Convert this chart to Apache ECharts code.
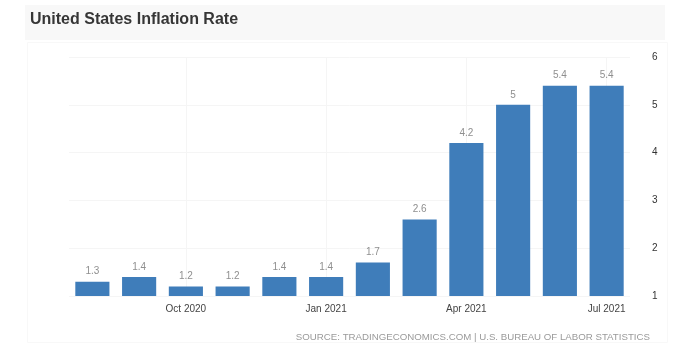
<!DOCTYPE html>
<html>
<head>
<meta charset="utf-8">
<script src="https://cdn.jsdelivr.net/npm/echarts@6/dist/echarts.min.js"></script>
<style>html,body{margin:0;padding:0;background:#fff;}#c{width:684px;height:344px;}</style>
</head>
<body>
<div id="c"></div>
<script>
const categories = ['Aug 2020','Sep 2020','Oct 2020','Nov 2020','Dec 2020','Jan 2021','Feb 2021','Mar 2021','Apr 2021','May 2021','Jun 2021','Jul 2021'];
const inflation = [1.3, 1.4, 1.2, 1.2, 1.4, 1.4, 1.7, 2.6, 4.2, 5.0, 5.4, 5.4];
const yTicks = [1, 2, 3, 4, 5, 6];
const labelEvery = (i) => (i - 2) % 3 === 0;

const chart = echarts.init(document.getElementById('c'));
chart.setOption({
  backgroundColor: '#ffffff',
  animation: false,
  graphic: [
    { type: 'rect', left: 25, top: 5, shape: { width: 640, height: 35 }, style: { fill: '#f8f8f8' }, z: -10 },
    { type: 'rect', left: 25, top: 40, shape: { width: 640, height: 300 }, style: { fill: 'none', stroke: '#f8f8f8', lineWidth: 1 }, z: -10 },
    { type: 'text', left: 30, top: 12, style: { text: 'United States Inflation Rate', font: 'bold 16px "Liberation Sans", Arial, sans-serif', fill: '#363636' } },
    { type: 'text', right: 34, top: 332, style: { text: 'SOURCE: TRADINGECONOMICS.COM | U.S. BUREAU OF LABOR STATISTICS', font: '9.7px "Liberation Sans", Arial, sans-serif', fill: '#9a9a9a' } }
  ],
  grid: { left: 69, right: 54, top: 57, bottom: 48 },
  xAxis: {
    type: 'category',
    data: categories,
    axisLine: { show: false },
    axisTick: { show: false, alignWithLabel: true },
    axisLabel: {
      interval: (i) => labelEvery(i),
      color: '#444444',
      fontSize: 10,
      fontFamily: '"Liberation Sans", Arial, sans-serif',
      margin: 8
    },
    splitLine: { show: true, interval: (i) => labelEvery(i), alignWithLabel: true, lineStyle: { color: '#f5f5f5' } }
  },
  yAxis: {
    type: 'value',
    position: 'right',
    min: 1,
    max: 6,
    interval: 1,
    axisLine: { show: false },
    axisTick: { show: false },
    axisLabel: {
      formatter: (v) => yTicks.includes(v) ? String(v) : '',
      color: '#333333',
      fontSize: 10,
      fontFamily: '"Liberation Sans", Arial, sans-serif',
      margin: 22
    },
    splitLine: { lineStyle: { color: '#f5f5f5' } }
  },
  series: [{
    type: 'bar',
    data: inflation,
    barCategoryGap: '27%',
    itemStyle: { color: '#3f7dba' },
    label: {
      show: true,
      position: 'top',
      distance: 5,
      color: '#8f8f8f',
      fontSize: 10,
      fontFamily: '"Liberation Sans", Arial, sans-serif'
    }
  }]
});
</script>
</body>
</html>
